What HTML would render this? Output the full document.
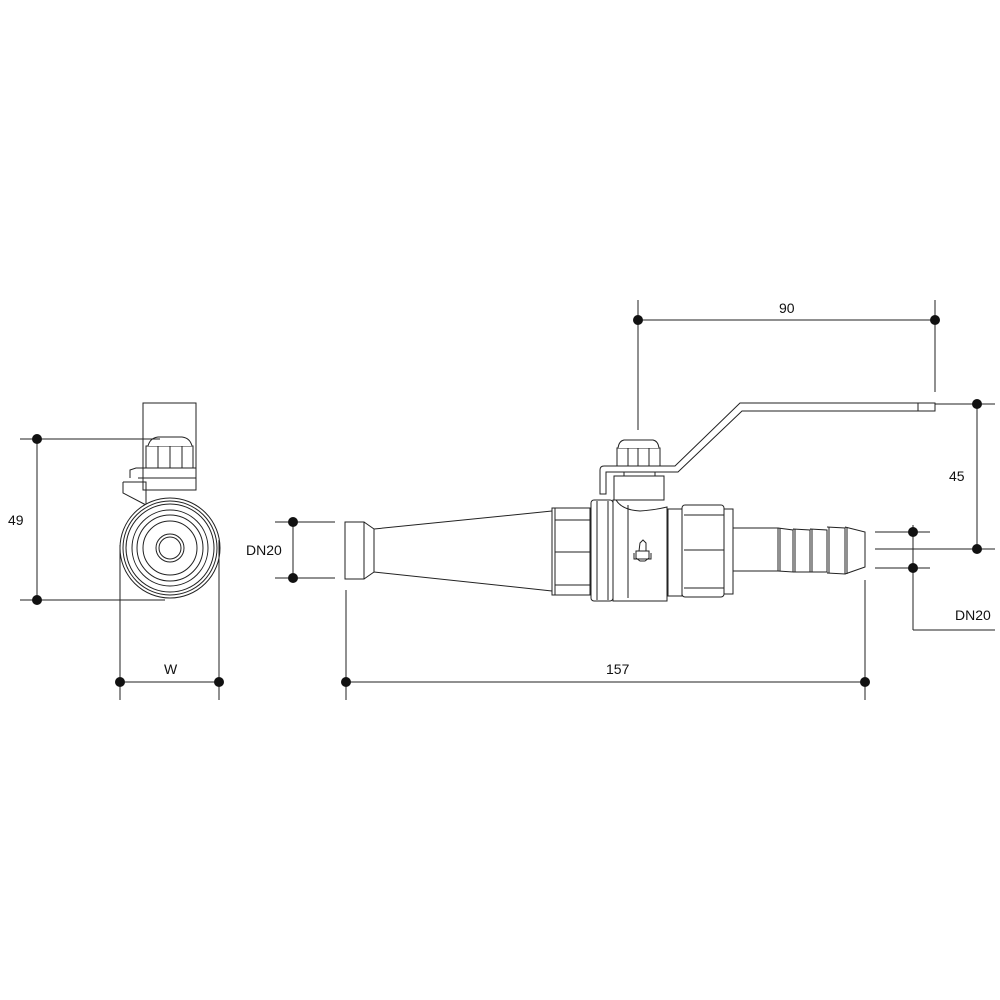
<!DOCTYPE html>
<html><head><style>body{margin:0;background:#fff}svg{display:block}</style></head><body>
<svg width="1000" height="1000" viewBox="0 0 1000 1000" xmlns="http://www.w3.org/2000/svg" font-family="Liberation Sans, sans-serif" font-size="14">
<g stroke="#222" stroke-width="1" fill="none">
<!-- left view -->
<rect x="143" y="403" width="53" height="87"/>
<rect x="146" y="446" width="47" height="22" fill="#fff"/>
<path d="M148 446 Q150 438 158 437 L182 437 Q190 438 192 446" fill="#fff"/>
<line x1="158" y1="446" x2="158" y2="468"/><line x1="182" y1="446" x2="182" y2="468"/><line x1="170" y1="446" x2="170" y2="468"/>
<path d="M130 478 L130 470 L136 468 L196 468 M123 482 L123 493 L146 505 M123 482 L146 482 L146 506 M138 478 L196 478"/>
<circle cx="170" cy="548" r="50" fill="#fff"/>
<circle cx="170" cy="548" r="47"/>
<circle cx="170" cy="548" r="44"/>
<circle cx="170" cy="548" r="38"/>
<circle cx="170" cy="548" r="33"/>
<circle cx="170" cy="548" r="27"/>
<circle cx="170" cy="548" r="14"/>
<circle cx="170" cy="548" r="11"/>
<!-- main view: left cone -->
<rect x="345" y="522" width="19" height="57"/>
<path d="M364 522 L374 529 L374 572 L364 579 M374 529 L552 511 M374 572 L552 591"/>
<!-- left nut -->
<rect x="552" y="508" width="38" height="87" fill="#fff"/>
<rect x="555" y="508" width="35" height="87"/>
<line x1="555" y1="520" x2="590" y2="520"/><line x1="555" y1="552" x2="590" y2="552"/><line x1="555" y1="585" x2="590" y2="585"/>
<!-- body flange -->
<rect x="591" y="500" width="22" height="101" rx="3" fill="#fff"/>
<line x1="597" y1="501" x2="597" y2="600"/><line x1="608" y1="501" x2="608" y2="600"/>
<!-- body center -->
<path d="M613 500 L613 601 L667 601 L667 507 Q655 510 640 511 Q622 510 616 500 Z" fill="#fff"/>
<line x1="628" y1="505" x2="628" y2="598"/>
<path d="M636 551 L636 558 L640 561 L645 561 L649 558 L649 551 Z M639 551 L640 543 L643 540 L646 543 L646 551 M634 553 L634 559 L651 559 L651 553"/>
<!-- spacer -->
<rect x="668" y="509" width="14" height="87"/>
<!-- right nut -->
<rect x="682" y="505" width="42" height="92" rx="3" fill="#fff"/>
<line x1="684" y1="515" x2="724" y2="515"/><line x1="684" y1="550" x2="724" y2="550"/><line x1="684" y1="588" x2="724" y2="588"/>
<rect x="724" y="509" width="9" height="85"/>
<!-- hose tail -->
<path d="M733 528 L778 528 L778 571 L733 571"/>
<path d="M778 528 L793 530 L793 572 L778 571 M793 529 L810 530 L810 572 L793 572 M810 529 L827 530 L827 572 L810 572 M827 527 L845 528 L845 574 L827 573 M845 527 L865 532 L865 567 L845 574"/>
<line x1="780" y1="528" x2="780" y2="571"/><line x1="795" y1="529" x2="795" y2="572"/><line x1="812" y1="529" x2="812" y2="572"/><line x1="829" y1="527" x2="829" y2="573"/><line x1="847" y1="527" x2="847" y2="574"/>
<!-- stem -->
<rect x="614" y="476" width="50" height="24" fill="#fff"/>
<rect x="617" y="448" width="43" height="18" fill="#fff"/>
<path d="M618 448 Q619 441 624 440 L653 440 Q658 441 659 448" fill="#fff"/>
<line x1="638" y1="448" x2="638" y2="466"/><line x1="628" y1="448" x2="628" y2="466"/><line x1="649" y1="448" x2="649" y2="466"/>
<line x1="624" y1="466" x2="624" y2="476"/><line x1="655" y1="466" x2="655" y2="476"/>
<!-- handle -->
<path d="M600 494 L600 470 Q600 466 604 466 L675 466 L740 403 L935 403 L935 411 L918 411 L742 411 L678 472 L606 472 L606 494 Z" fill="#fff"/>
<line x1="918" y1="403" x2="918" y2="411"/>
</g>
<!-- dimensions -->
<g stroke="#222" stroke-width="1" fill="none">
<line x1="20" y1="439" x2="160" y2="439"/><line x1="20" y1="600" x2="165" y2="600"/><line x1="37" y1="439" x2="37" y2="600"/>
<line x1="120" y1="545" x2="120" y2="700"/><line x1="219" y1="540" x2="219" y2="700"/><line x1="120" y1="682" x2="219" y2="682"/>
<line x1="275" y1="522" x2="335" y2="522"/><line x1="275" y1="578" x2="335" y2="578"/><line x1="293" y1="522" x2="293" y2="578"/>
<line x1="346" y1="590" x2="346" y2="700"/><line x1="865" y1="580" x2="865" y2="700"/><line x1="346" y1="682" x2="865" y2="682"/>
<line x1="638" y1="300" x2="638" y2="430"/><line x1="935" y1="300" x2="935" y2="392"/><line x1="638" y1="320" x2="935" y2="320"/>
<line x1="935" y1="404" x2="995" y2="404"/><line x1="875" y1="549" x2="995" y2="549"/><line x1="977" y1="404" x2="977" y2="549"/>
<line x1="875" y1="532" x2="930" y2="532"/><line x1="875" y1="568" x2="930" y2="568"/><line x1="913" y1="525" x2="913" y2="630"/><line x1="913" y1="630" x2="995" y2="630"/>
</g>
<g fill="#111">
<circle cx="37" cy="439" r="5"/><circle cx="37" cy="600" r="5"/>
<circle cx="120" cy="682" r="5"/><circle cx="219" cy="682" r="5"/>
<circle cx="293" cy="522" r="5"/><circle cx="293" cy="578" r="5"/>
<circle cx="346" cy="682" r="5"/><circle cx="865" cy="682" r="5"/>
<circle cx="638" cy="320" r="5"/><circle cx="935" cy="320" r="5"/>
<circle cx="977" cy="404" r="5"/><circle cx="977" cy="549" r="5"/>
<circle cx="913" cy="532" r="5"/><circle cx="913" cy="568" r="5"/>
<text x="8" y="525">49</text>
<text x="164" y="674">W</text>
<text x="246" y="555">DN20</text>
<text x="606" y="674">157</text>
<text x="779" y="313">90</text>
<text x="949" y="481">45</text>
<text x="955" y="620">DN20</text>
</g>
</svg>
</body></html>
